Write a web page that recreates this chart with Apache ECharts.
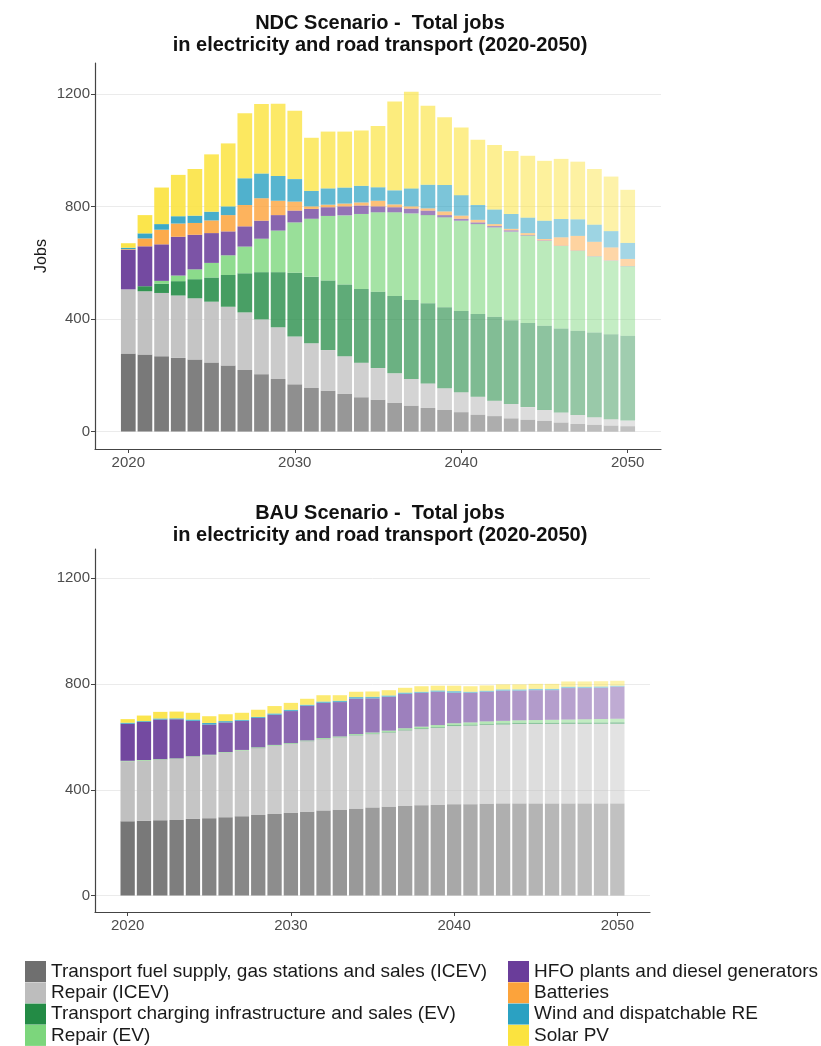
<!DOCTYPE html>
<html>
<head>
<meta charset="utf-8">
<script src="https://cdn.jsdelivr.net/npm/echarts@6/dist/echarts.min.js"></script>
<style>
  html, body { margin: 0; padding: 0; background: #fff; }
  #chart { width: 821px; height: 1046px; }
</style>
</head>
<body>
<div id="chart"></div>
<script>
// years with bars; the axis runs two empty years beyond each end
var years = [];
for (var y = 2020; y <= 2050; y++) years.push(y);
var axisYears = [2018, 2019].concat(years, [2051, 2052]);

var seriesNames = [
  'Transport fuel supply, gas stations and sales (ICEV)',
  'Repair (ICEV)',
  'Transport charging infrastructure and sales (EV)',
  'Repair (EV)',
  'HFO plants and diesel generators',
  'Batteries',
  'Wind and dispatchable RE',
  'Solar PV'
];
var seriesColors = ['#6f6f6f', '#bdbdbd', '#238b45', '#7cd67c', '#6a3d9a', '#fca33b', '#2ba1c2', '#fbe33f'];

var yTicks = [0, 400, 800, 1200];
var xTicks = [2020, 2030, 2040, 2050];

// NDC scenario (jobs)
var ndcFuelICEV   = [278, 274, 268, 262, 256, 246, 235, 219, 204, 187, 168, 155, 145, 134, 122, 113, 102, 92, 84, 77, 69, 60, 55, 47, 42, 38, 32, 27, 24, 21, 19];
var ndcRepairICEV = [228, 225, 225, 222, 218, 216, 209, 205, 195, 184, 170, 159, 145, 134, 123, 113, 105, 95, 87, 77, 71, 64, 55, 51, 45, 39, 36, 32, 27, 23, 20];
var ndcChargeEV   = [0, 18, 33, 51, 68, 86, 113, 139, 168, 196, 227, 237, 247, 255, 262, 271, 275, 281, 285, 288, 289, 294, 298, 298, 299, 299, 299, 300, 301, 302, 302];
var ndcRepairEV   = [0, 0, 10, 20, 35, 52, 70, 95, 119, 148, 179, 206, 230, 246, 267, 283, 298, 308, 314, 320, 321, 320, 318, 315, 311, 302, 293, 284, 271, 262, 247];
var ndcHFO        = [141, 142, 130, 138, 123, 106, 85, 72, 64, 55, 42, 35, 31, 32, 30, 21, 18, 17, 16, 8, 7, 6, 5, 5, 2, 2, 1, 1, 1, 1, 1];
var ndcBatteries  = [2, 28, 52, 47, 42, 45, 58, 76, 80, 51, 32, 9, 9, 10, 11, 20, 10, 8, 8, 13, 11, 9, 7, 5, 7, 5, 30, 52, 51, 46, 25];
var ndcWind       = [5, 18, 20, 26, 26, 31, 31, 95, 88, 88, 80, 55, 58, 57, 59, 48, 50, 64, 84, 94, 73, 53, 52, 53, 55, 65, 65, 59, 61, 58, 57];
var ndcSolar      = [16, 65, 130, 147, 166, 204, 224, 231, 247, 257, 243, 189, 202, 199, 197, 218, 316, 344, 281, 241, 241, 232, 229, 224, 220, 213, 214, 205, 198, 194, 189];

// BAU scenario (jobs)
var bauFuelICEV   = [281, 283, 285, 286, 290, 293, 296, 300, 305, 309, 313, 317, 322, 325, 329, 333, 336, 339, 342, 343, 346, 346, 347, 348, 348, 348, 348, 348, 348, 348, 348];
var bauRepairICEV = [227, 228, 229, 231, 235, 238, 245, 249, 253, 258, 261, 267, 270, 273, 277, 278, 281, 286, 288, 292, 295, 297, 299, 299, 301, 301, 301, 301, 301, 301, 301];
var bauChargeEV   = [0, 0, 0, 0, 0, 0, 0, 0, 1, 1, 1, 1, 1, 1, 2, 2, 2, 3, 3, 3, 4, 4, 4, 5, 5, 5, 5, 6, 6, 6, 7];
var bauRepairEV   = [2, 2, 2, 2, 2, 2, 2, 2, 2, 2, 2, 2, 3, 3, 3, 4, 5, 5, 6, 7, 7, 8, 9, 9, 9, 10, 11, 11, 12, 13, 13];
var bauHFO        = [140, 144, 150, 148, 134, 114, 112, 110, 111, 114, 121, 131, 133, 130, 134, 129, 128, 130, 128, 126, 115, 112, 112, 114, 112, 113, 112, 119, 118, 118, 121];
var bauBatteries  = [0, 0, 0, 0, 0, 0, 0, 0, 0, 0, 0, 0, 0, 0, 0, 0, 0, 0, 0, 0, 0, 0, 0, 0, 0, 0, 0, 0, 0, 0, 0];
var bauWind       = [4, 3, 4, 3.5, 5, 6, 5, 4, 4, 5, 5, 4, 5, 5, 6, 6, 5, 5, 4, 5, 6.5, 4, 4, 5, 5, 5, 5, 5, 5, 5, 4];
var bauSolar      = [13.5, 21, 25, 25.5, 25.5, 25.5, 26, 26.5, 27, 28, 26, 22.5, 24, 21, 20, 20, 20, 18, 21, 18, 20.5, 21, 20, 19, 19, 19, 19, 20, 20, 20, 18.6];

var ndcSets = [ndcFuelICEV, ndcRepairICEV, ndcChargeEV, ndcRepairEV, ndcHFO, ndcBatteries, ndcWind, ndcSolar];
var bauSets = [bauFuelICEV, bauRepairICEV, bauChargeEV, bauRepairEV, bauHFO, bauBatteries, bauWind, bauSolar];

var font = '"Liberation Sans", Arial, Helvetica, sans-serif';

// bars fade out with the year
function yearAlpha(i) {
  return 0.95 - (i / 30) * 0.52;
}

function makeSeries(sets, idx, stack, barW) {
  return sets.map(function (vals, k) {
    var data = ['-', '-'];
    vals.forEach(function (v, i) {
      data.push({ value: v, itemStyle: { opacity: yearAlpha(i) } });
    });
    data.push('-', '-');
    return {
      name: seriesNames[k],
      type: 'bar',
      stack: stack,
      xAxisIndex: idx,
      yAxisIndex: idx,
      barWidth: barW,
      itemStyle: { color: seriesColors[k] },
      emphasis: { disabled: true },
      data: data
    };
  });
}

function showYear(index, value) {
  return xTicks.indexOf(Number(value)) !== -1;
}

function xAxisOpt(idx) {
  return {
    type: 'category',
    gridIndex: idx,
    data: axisYears,
    boundaryGap: false,
    axisLine: { show: true, onZero: false, lineStyle: { color: '#444', width: 1.2 } },
    axisTick: { show: true, length: 4, interval: showYear, lineStyle: { color: '#444' } },
    axisLabel: { interval: showYear, color: '#4d4d4d', fontSize: 15, fontFamily: font, margin: 6 },
    splitLine: { show: false }
  };
}

function yAxisOpt(idx, name) {
  return {
    type: 'value',
    gridIndex: idx,
    min: -62,
    max: 1311,
    name: name,
    nameLocation: 'middle',
    nameRotate: 90,
    nameGap: 45,
    nameMoveOverlap: false,
    nameTextStyle: { color: '#1a1a1a', fontSize: 16, fontFamily: font },
    axisLine: { show: true, lineStyle: { color: '#444', width: 1.2 } },
    axisTick: { show: true, length: 4, customValues: yTicks, lineStyle: { color: '#444' } },
    axisLabel: { customValues: yTicks, color: '#4d4d4d', fontSize: 15, fontFamily: font, margin: 5,
      formatter: function (v) { return String(v); } },
    splitLine: { show: true, lineStyle: { color: '#ebebeb', width: 1 } }
  };
}

var titleStyle = { fontSize: 20, fontWeight: 'bold', color: '#111', fontFamily: font, lineHeight: 22.5 };

var chart = echarts.init(document.getElementById('chart'));
chart.setOption({
  animation: false,
  backgroundColor: '#fff',
  title: [
    { text: 'NDC Scenario -  Total jobs\nin electricity and road transport (2020-2050)', left: 380, top: 12,
      padding: 0, textAlign: 'center', textStyle: titleStyle },
    { text: 'BAU Scenario -  Total jobs\nin electricity and road transport (2020-2050)', left: 380, top: 502,
      padding: 0, textAlign: 'center', textStyle: titleStyle }
  ],
  grid: [
    { left: 95, top: 63, width: 566, height: 386 },
    { left: 95, top: 549, width: 555, height: 363 }
  ],
  xAxis: [xAxisOpt(0), xAxisOpt(1)],
  yAxis: [yAxisOpt(0, 'Jobs'), yAxisOpt(1, '')],
  legend: [
    { data: seriesNames.slice(0, 4), orient: 'vertical', left: 25, top: 961, padding: 0,
      itemWidth: 21, itemHeight: 21, itemGap: 0.3, icon: 'rect', selectedMode: false,
      textStyle: { fontSize: 19, color: '#1a1a1a', fontFamily: font } },
    { data: seriesNames.slice(4), orient: 'vertical', left: 508, top: 961, padding: 0,
      itemWidth: 21, itemHeight: 21, itemGap: 0.3, icon: 'rect', selectedMode: false,
      textStyle: { fontSize: 19, color: '#1a1a1a', fontFamily: font } }
  ],
  series: makeSeries(ndcSets, 0, 'ndc', 14.7).concat(makeSeries(bauSets, 1, 'bau', 14.3))
});
</script>
</body>
</html>
